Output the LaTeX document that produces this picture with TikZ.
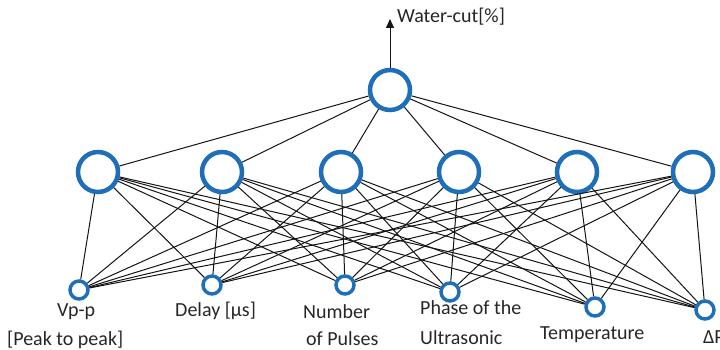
\documentclass[tikz,border=0pt]{standalone}
\usepackage{fontspec}
\setmainfont{Carlito}
\usetikzlibrary{arrows.meta}
\definecolor{neuronblue}{RGB}{30,110,185}
\definecolor{wireblack}{RGB}{20,20,20}

\begin{document}
\begin{tikzpicture}[
    x=1pt, y=1pt,
    >={Triangle[length=9pt, width=8pt]},
    bigneuron/.style={circle, draw=neuronblue, fill=white, line width=4.5pt, minimum size=40pt, inner sep=0pt},
    smallneuron/.style={circle, draw=neuronblue, fill=white, line width=3.5pt, minimum size=18pt, inner sep=0pt},
    wire/.style={draw=wireblack, line width=1pt},
    lbl/.style={font=\fontsize{20}{24}\selectfont, text=black!85, inner sep=0pt, anchor=base west}
]

% Canvas
\useasboundingbox (0,0) rectangle (720,349);

% Output neuron
\node[bigneuron] (OUT) at (390, 259) {};
\coordinate (TOP) at (390, 330);

% Hidden layer
\foreach \i/\x in {1/98, 2/222, 3/341, 4/459, 5/577, 6/693}
  \node[bigneuron] (H\i) at (\x, 177) {};

% Input layer
\node[smallneuron] (I1) at (79, 59) {};
\node[smallneuron] (I2) at (212, 64) {};
\node[smallneuron] (I3) at (345, 64) {};
\node[smallneuron] (I4) at (450, 57) {};
\node[smallneuron] (I5) at (595, 42) {};
\node[smallneuron] (I6) at (705, 39) {};

% Connections, fully connected
\foreach \i in {1,...,6} {
  \draw[wire] (OUT) -- (H\i);
  \foreach \j in {1,...,6}
    \draw[wire] (H\i) -- (I\j);
}

% Output arrow
\draw[wire, ->] (OUT) -- (TOP);
\node[lbl] (WCUT) at (397, 326) {Water-cut[\%]};

% Input labels
\node[lbl] (L1a) at (57, 33) {Vp-p};
\node[lbl] (L1b) at (7, 4) {[Peak to peak]};
\node[lbl] (L2) at (175, 33) {Delay [µs]};
\node[lbl] (L3a) at (303, 31) {Number};
\node[lbl] (L3b) at (306, 4) {of Pulses};
\node[lbl] (L4a) at (420, 35) {Phase of the};
\node[lbl] (L4b) at (420, 5) {Ultrasonic};
\node[lbl] (L5) at (540, 10) {Temperature};
\node[lbl] (L6) at (703, 6) {ΔP};

\end{tikzpicture}
\end{document}
